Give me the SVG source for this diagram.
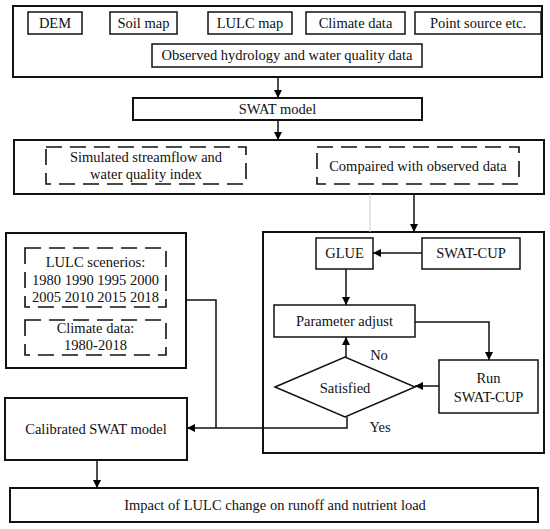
<svg xmlns="http://www.w3.org/2000/svg" width="550" height="529" viewBox="0 0 550 529" font-family="'Liberation Serif', 'Times New Roman', 'DejaVu Serif', serif">
<style>
text{font-family:'Liberation Serif','Times New Roman','DejaVu Serif',serif;font-size:14.5px;fill:#111;text-anchor:middle}
.box{fill:#fff;stroke:#111;stroke-width:1.5}
.outer{fill:#fff;stroke:#111;stroke-width:2}
.dash{fill:none;stroke:#111;stroke-width:1.6;stroke-dasharray:16 8}
.ln{fill:none;stroke:#111;stroke-width:1.5}
.arr{fill:none;stroke:#111;stroke-width:1.5;marker-end:url(#ah)}
</style>
<defs>
<marker id="ah" viewBox="0 0 10 10" refX="10" refY="5" markerWidth="8" markerHeight="8" markerUnits="userSpaceOnUse" orient="auto">
<path d="M0,0 L10,5 L0,10 z" fill="#000"/>
</marker>
</defs>
<rect width="550" height="529" fill="#fff"/>
<g id="inputs">
<rect class="outer" x="13" y="6" width="529" height="71"/>
</g>
<g id="dem"><rect class="box" x="28" y="12" width="54" height="22"/><text x="55" y="28">DEM</text></g>
<g id="soil"><rect class="box" x="110" y="12" width="67" height="22"/><text x="143.5" y="28">Soil map</text></g>
<g id="lulc"><rect class="box" x="208" y="12" width="84" height="22"/><text x="250" y="28">LULC map</text></g>
<g id="climate"><rect class="box" x="306" y="12" width="99" height="22"/><text x="355.5" y="28">Climate data</text></g>
<g id="point"><rect class="box" x="415" y="12" width="126" height="22"/><text x="478" y="28">Point source etc.</text></g>
<g id="observed"><rect class="box" x="152" y="44" width="270" height="23"/><text x="287" y="60">Observed hydrology and water quality data</text></g>
<g id="swat"><rect class="outer" x="133" y="98" width="289" height="22"/><text x="277.5" y="114">SWAT model</text></g>
<g id="simulation">
<rect class="outer" x="14" y="140" width="530" height="54"/>
<rect class="dash" x="46" y="147" width="200" height="37"/>
<text x="146" y="162">Simulated streamflow and</text>
<text x="146" y="179">water quality index</text>
<rect class="dash" x="317" y="147" width="202" height="37"/>
<text x="418" y="171">Compaired with observed data</text>
</g>
<g id="scenarios">
<rect class="outer" x="6" y="233" width="180" height="135"/>
<rect class="dash" x="25" y="248" width="141" height="59"/>
<text x="95.5" y="267">LULC scenerios:</text>
<text x="95.5" y="285">1980 1990 1995 2000</text>
<text x="95.5" y="302">2005 2010 2015 2018</text>
<rect class="dash" x="25" y="320" width="141" height="35"/>
<text x="95.5" y="333">Climate data:</text>
<text x="95.5" y="350">1980-2018</text>
</g>
<g id="calibration">
<rect class="outer" x="263" y="232" width="281" height="221"/>
</g>
<g id="glue"><rect class="box" x="316" y="238" width="57" height="31"/><text x="344.5" y="258">GLUE</text></g>
<g id="swatcup"><rect class="box" x="422" y="238" width="98" height="31"/><text x="471" y="258">SWAT-CUP</text></g>
<g id="param"><rect class="box" x="274" y="305" width="141" height="32"/><text x="344.5" y="326">Parameter adjust</text></g>
<g id="run"><rect class="box" x="439" y="360" width="99" height="53"/><text x="488.5" y="383">Run</text><text x="488.5" y="402">SWAT-CUP</text></g>
<g id="satisfied"><path class="box" d="M275,387 L345,357 L415,387 L345,417 z"/><text x="345" y="393">Satisfied</text></g>
<g id="calibrated"><rect class="outer" x="5" y="398" width="182" height="62"/><text x="96" y="434">Calibrated SWAT model</text></g>
<g id="impact"><rect class="outer" x="10" y="488" width="528" height="34"/><text x="275" y="510">Impact of LULC change on runoff and nutrient load</text></g>
<g id="connectors">
<line class="arr" x1="278" y1="77" x2="278" y2="98"/>
<line class="arr" x1="278" y1="120" x2="278" y2="140"/>
<line x1="370" y1="194" x2="370" y2="232" stroke="#ccc" stroke-width="1"/>
<line class="arr" x1="414" y1="194" x2="414" y2="232"/>
<line class="arr" x1="422" y1="253" x2="373" y2="253"/>
<line class="arr" x1="346" y1="269" x2="346" y2="305"/>
<polyline class="arr" points="415,322 489,322 489,360"/>
<line class="arr" x1="439" y1="386" x2="415" y2="386"/>
<line class="arr" x1="346" y1="357" x2="346" y2="337"/>
<polyline class="ln" points="186,300 216,300 216,428"/>
<polyline class="arr" points="347,417 347,428 187,428"/>
<line class="arr" x1="97" y1="460" x2="97" y2="488"/>
<text x="379" y="360">No</text>
<text x="380" y="432">Yes</text>
</g>
</svg>
